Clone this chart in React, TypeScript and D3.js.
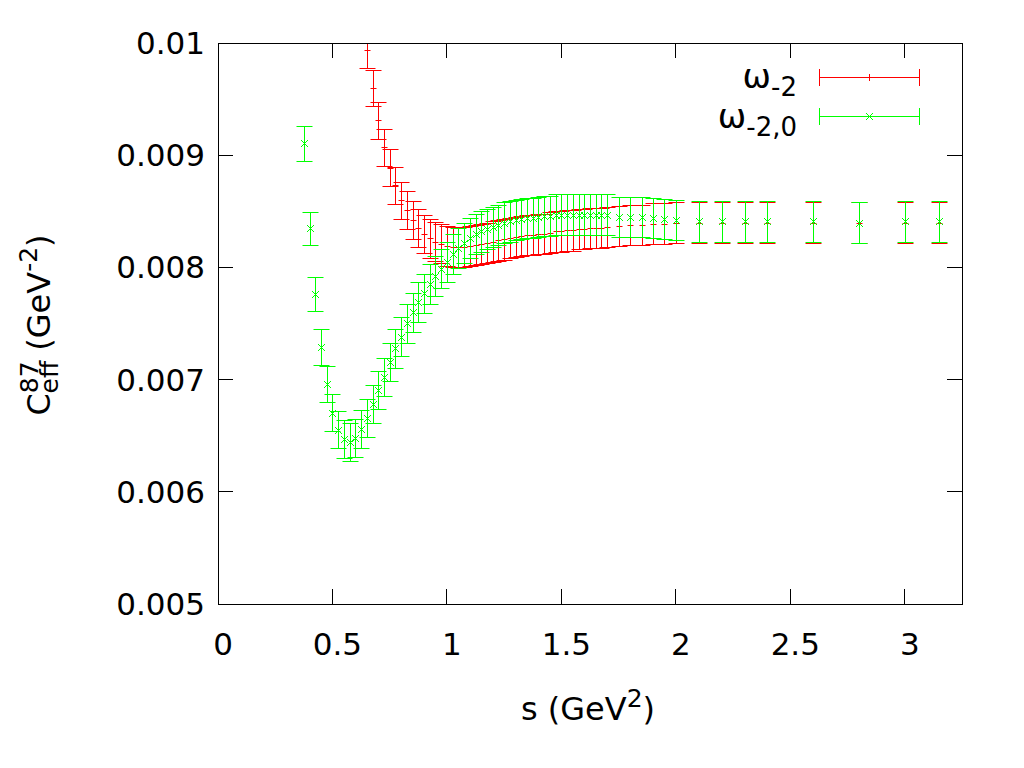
import React from 'react';
import * as d3 from 'd3';

// omega_{-2,0} (green)
const sGreen = [
  0.375, 0.4, 0.425, 0.45, 0.475, 0.5, 0.525, 0.55, 0.575, 0.6, 0.625, 0.65, 0.675, 0.7,
  0.725, 0.75, 0.775, 0.8, 0.825, 0.85, 0.875, 0.9, 0.925, 0.95, 0.975, 1.0, 1.025, 1.05,
  1.075, 1.1, 1.125, 1.15, 1.175, 1.2, 1.225, 1.25, 1.275, 1.3, 1.325, 1.35, 1.375, 1.4,
  1.425, 1.45, 1.475, 1.5, 1.525, 1.55, 1.575, 1.6, 1.625, 1.65, 1.675, 1.7, 1.75, 1.8,
  1.85, 1.9, 1.95, 2.0, 2.1, 2.2, 2.3, 2.4, 2.6, 2.8, 3.0, 3.15,
];
const greenValues = [
  0.009106, 0.008348, 0.007763, 0.007293, 0.006958, 0.006705, 0.006551, 0.006468, 0.006447,
  0.00648, 0.00656, 0.006655, 0.00678, 0.006907, 0.007026, 0.007157, 0.007279, 0.007382,
  0.007502, 0.0076, 0.007692, 0.007769, 0.007852, 0.007923, 0.00799, 0.00805, 0.00812,
  0.00817, 0.00822, 0.00826, 0.0083, 0.00832, 0.00834, 0.00836, 0.00838, 0.0084, 0.00841,
  0.00842, 0.00843, 0.00844, 0.00844, 0.00845, 0.00846, 0.00846, 0.00847, 0.00847, 0.00847,
  0.00847, 0.00847, 0.00847, 0.00847, 0.00847, 0.00847, 0.00847, 0.00845, 0.00845, 0.00845,
  0.00844, 0.00843, 0.00842, 0.00841, 0.00841, 0.00841, 0.00841, 0.00841, 0.0084, 0.00841,
  0.00841,
];
const greenErrors = [
  0.000155, 0.00015, 0.000155, 0.00016, 0.00016, 0.000165, 0.000165, 0.00017, 0.00017,
  0.00017, 0.00017, 0.00017, 0.00017, 0.00017, 0.00017, 0.00017, 0.000172, 0.000172,
  0.000172, 0.000172, 0.000175, 0.000175, 0.000175, 0.000175, 0.000175, 0.000178, 0.000178,
  0.000178, 0.000178, 0.00018, 0.00018, 0.00018, 0.00018, 0.00018, 0.00018, 0.00018,
  0.00018, 0.00018, 0.00018, 0.00018, 0.00018, 0.00018, 0.00018, 0.00018, 0.00018, 0.00018,
  0.00018, 0.00018, 0.00018, 0.00018, 0.00018, 0.00018, 0.00018, 0.00018, 0.00018, 0.00018,
  0.00018, 0.00018, 0.00018, 0.00018, 0.00018, 0.00018, 0.00018, 0.00018, 0.00018, 0.00018,
  0.00018, 0.00018,
];

// omega_{-2} (red)
const sRed = [
  0.65, 0.675, 0.7, 0.725, 0.75, 0.775, 0.8, 0.825, 0.85, 0.875, 0.9, 0.925, 0.95, 0.975,
  1.0, 1.025, 1.05, 1.075, 1.1, 1.125, 1.15, 1.175, 1.2, 1.225, 1.25, 1.275, 1.3, 1.325,
  1.35, 1.375, 1.4, 1.425, 1.45, 1.475, 1.5, 1.525, 1.55, 1.575, 1.6, 1.625, 1.65, 1.675,
  1.7, 1.75, 1.8, 1.85, 1.9, 1.95, 2.0, 2.1, 2.2, 2.3, 2.4, 2.6, 2.8, 3.0, 3.15,
];
const redValues = [
  0.00994, 0.0096, 0.00931, 0.00907, 0.00889, 0.00873, 0.0086, 0.00851, 0.00842, 0.00835,
  0.0083, 0.00826, 0.00823, 0.00821, 0.00819, 0.00818, 0.00818, 0.00818, 0.00819, 0.0082,
  0.00821, 0.00822, 0.00823, 0.00824, 0.00825, 0.00826, 0.00827, 0.00828, 0.00829, 0.00829,
  0.0083, 0.0083, 0.00831, 0.00832, 0.00832, 0.00833, 0.00833, 0.00834, 0.00834, 0.00835,
  0.00835, 0.00835, 0.00836, 0.00837, 0.00838, 0.00838, 0.00839, 0.00839, 0.0084, 0.0084,
  0.0084, 0.0084, 0.0084, 0.0084, 0.0084, 0.0084, 0.0084,
];
const redErrors = [
  0.00016, 0.00016, 0.000165, 0.000165, 0.000165, 0.000165, 0.000165, 0.000168, 0.00017,
  0.00017, 0.00017, 0.000172, 0.000175, 0.000175, 0.000178, 0.000178, 0.000178, 0.00018,
  0.00018, 0.00018, 0.00018, 0.00018, 0.00018, 0.00018, 0.00018, 0.00018, 0.00018, 0.00018,
  0.00018, 0.00018, 0.00018, 0.00018, 0.00018, 0.00018, 0.00018, 0.00018, 0.00018, 0.00018,
  0.00018, 0.00018, 0.00018, 0.00018, 0.00018, 0.00018, 0.00018, 0.00018, 0.00018, 0.00018,
  0.00018, 0.00018, 0.00018, 0.00018, 0.00018, 0.00018, 0.00018, 0.00018, 0.00018,
];

const xTicks = [0, 0.5, 1, 1.5, 2, 2.5, 3];
const yTicks = [0.005, 0.006, 0.007, 0.008, 0.009, 0.01];

const RED = '#ff0000';
const GREEN = '#00ff00';
const FONT = '"DejaVu Sans", sans-serif';

const x = d3.scaleLinear().domain([0, 3.25]).range([218, 962]);
const y = d3.scaleLinear().domain([0.005, 0.01]).range([604, 43]);

const CAP = 8;

function ErrorBars({ s, v, e, color, marker }: { s: number[]; v: number[]; e: number[]; color: string; marker: 'plus' | 'cross' }) {
  return (
    <g stroke={color} strokeWidth={1} fill="none">
      {s.map((sv, i) => {
        const cx = Math.round(x(sv)) + 0.5;
        const cy = Math.round(y(v[i])) + 0.5;
        const lo = Math.round(y(v[i] - e[i])) + 0.5;
        const hi = Math.round(y(v[i] + e[i])) + 0.5;
        return (
          <g key={i}>
            <line x1={cx} x2={cx} y1={lo} y2={hi} />
            <line x1={cx - CAP} x2={cx + CAP} y1={lo} y2={lo} />
            <line x1={cx - CAP} x2={cx + CAP} y1={hi} y2={hi} />
            {marker === 'plus' ? (
              <line x1={cx - 3} x2={cx + 3} y1={cy} y2={cy} />
            ) : (
              <>
                <line x1={cx - 3.5} x2={cx + 3.5} y1={cy - 3.5} y2={cy + 3.5} />
                <line x1={cx - 3.5} x2={cx + 3.5} y1={cy + 3.5} y2={cy - 3.5} />
              </>
            )}
          </g>
        );
      })}
    </g>
  );
}

export default function App() {
  const [x0, x1] = x.range();
  const [y0, y1] = y.range();
  return (
    <svg width={1024} height={768} style={{ position: 'absolute', left: 0, top: 0, background: '#fff' }} fontFamily={FONT}>
      <defs>
        <clipPath id="plotArea">
          <rect x={x0} y={y1} width={x1 - x0} height={y0 - y1} />
        </clipPath>
      </defs>
      <g clipPath="url(#plotArea)">
        <ErrorBars s={sRed} v={redValues} e={redErrors} color={RED} marker="plus" />
        <ErrorBars s={sGreen} v={greenValues} e={greenErrors} color={GREEN} marker="cross" />
      </g>

      {/* frame and ticks */}
      <rect x={x0 + 0.5} y={y1 + 0.5} width={x1 - x0} height={y0 - y1} fill="none" stroke="#000" strokeWidth={1} />
      <g stroke="#000" strokeWidth={1} shapeRendering="crispEdges">
        {xTicks.map(t => (
          <g key={t}>
            <line x1={x(t)} x2={x(t)} y1={y0} y2={y0 - 15} />
            <line x1={x(t)} x2={x(t)} y1={y1} y2={y1 + 15} />
          </g>
        ))}
        {yTicks.map(t => (
          <g key={t}>
            <line x1={x0} x2={x0 + 15} y1={y(t)} y2={y(t)} />
            <line x1={x1} x2={x1 - 15} y1={y(t)} y2={y(t)} />
          </g>
        ))}
      </g>
      <g fontSize={31} fill="#000">
        {xTicks.map(t => (
          <text key={t} x={x(t) + 5} y={655} textAnchor="middle">{d3.format('')(t)}</text>
        ))}
        {yTicks.map(t => (
          <text key={t} x={205} y={y(t) + 11} textAnchor="end">{d3.format('')(t)}</text>
        ))}
      </g>

      {/* axis titles */}
      <text x={588} y={720} textAnchor="middle" fontSize={32}>
        s (GeV<tspan dy={-13} fontSize={25}>2</tspan><tspan dy={13}>)</tspan>
      </text>
      <text transform="translate(50,325) rotate(-90)" textAnchor="middle" fontSize={32}>
        C<tspan dy={-12} fontSize={25}>87</tspan>
        <tspan dx={-32} dy={20} fontSize={25}>eff</tspan>
        <tspan dy={-8}> (GeV</tspan>
        <tspan dy={-13} fontSize={25}>-2</tspan>
        <tspan dy={13}>)</tspan>
      </text>

      {/* legend */}
      <g fontSize={34}>
        <text x={797} y={88} textAnchor="end">
          ω<tspan dy={8} fontSize={26}>-2</tspan>
        </text>
        <text x={797} y={128} textAnchor="end">
          ω<tspan dy={8} fontSize={26}>-2,0</tspan>
        </text>
      </g>
      <g stroke={RED} strokeWidth={1} shapeRendering="crispEdges">
        <line x1={819} x2={919} y1={77.5} y2={77.5} />
        <line x1={819.5} x2={819.5} y1={69} y2={86} />
        <line x1={919.5} x2={919.5} y1={69} y2={86} />
        <line x1={869.5} x2={869.5} y1={74} y2={81} />
      </g>
      <g stroke={GREEN} strokeWidth={1}>
        <line x1={819} x2={919} y1={116.5} y2={116.5} />
        <line x1={819.5} x2={819.5} y1={108} y2={125} />
        <line x1={919.5} x2={919.5} y1={108} y2={125} />
        <line x1={866} x2={873} y1={113} y2={120} />
        <line x1={866} x2={873} y1={120} y2={113} />
      </g>
    </svg>
  );
}
